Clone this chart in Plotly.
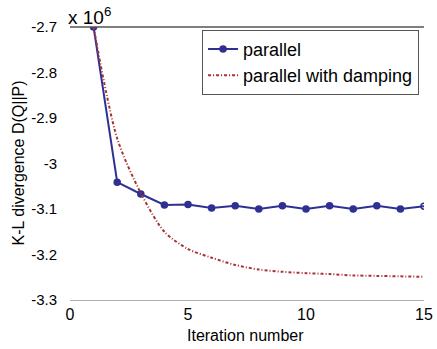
import plotly.graph_objects as go

iterations = list(range(1, 16))
parallel = [-2.700, -3.041, -3.067, -3.091, -3.090, -3.098, -3.093, -3.100,
            -3.093, -3.100, -3.093, -3.100, -3.093, -3.100, -3.094]
damping = [-2.700, -2.945, -3.065, -3.150, -3.188, -3.207, -3.223, -3.233,
           -3.238, -3.241, -3.243, -3.246, -3.247, -3.248, -3.249]
x_ticks = [0, 5, 10, 15]
y_ticks = [-2.7, -2.8, -2.9, -3.0, -3.1, -3.2, -3.3]
y_tick_labels = ["-2.7", "-2.8", "-2.9", "-3", "-3.1", "-3.2", "-3.3"]

font_family = "Liberation Sans, Arial, sans-serif"
blue = "#2e3192"
red = "#a83232"

marker_symbols = ["circle"] * (len(iterations) - 1) + ["circle-open"]

fig = go.Figure()
fig.add_trace(go.Scatter(
    x=iterations, y=parallel, name="parallel", mode="lines+markers",
    line=dict(color=blue, width=2),
    marker=dict(color=blue, size=6, symbol=marker_symbols, line=dict(color=blue, width=1.5)),
))
fig.add_trace(go.Scatter(
    x=iterations, y=damping, name="parallel with damping", mode="lines",
    line=dict(color=red, width=2, dash="3px,2px,1px,2px", shape="spline", smoothing=0.8),
))

# top frame line
fig.add_shape(type="line", xref="paper", yref="paper", x0=0, x1=1, y0=1, y1=1,
              line=dict(color="#555555", width=1.5))

# exponent label
fig.add_annotation(xref="paper", yref="paper", x=-0.01, y=1.0, xanchor="left", yanchor="bottom",
                   text="x 10<sup>6</sup>", showarrow=False, yshift=-3,
                   font=dict(family=font_family, size=19, color="black"))

# axis titles
fig.add_annotation(xref="paper", yref="paper", x=(245 - 70) / 354, y=(300 - 335) / 273,
                   xanchor="center", yanchor="middle", text="Iteration number", showarrow=False,
                   font=dict(family=font_family, size=16, color="black"))
fig.add_annotation(xref="paper", yref="paper", x=(18 - 70) / 354, y=0.5,
                   xanchor="center", yanchor="middle", text="K-L divergence D(Q||P)",
                   textangle=-90, showarrow=False,
                   font=dict(family=font_family, size=16, color="black"))

fig.update_layout(
    width=437, height=349,
    margin=dict(l=70, r=13, t=27, b=49, autoexpand=False),
    paper_bgcolor="white", plot_bgcolor="white",
    font=dict(family=font_family, size=15, color="black"),
    showlegend=True,
    legend=dict(x=0.373, y=0.99, xanchor="left", yanchor="top",
                bgcolor="white", bordercolor="#555555", borderwidth=1,
                font=dict(size=18), tracegroupgap=0, itemwidth=30),
    xaxis=dict(range=[0, 15], tickvals=x_ticks, showgrid=False, zeroline=False,
               showline=True, linecolor="#b0b0b0", linewidth=1,
               ticks="", automargin=False, tickfont=dict(size=16)),
    yaxis=dict(range=[-3.3, -2.7], tickvals=y_ticks, ticktext=y_tick_labels,
               showgrid=False, zeroline=False, showline=False,
               ticks="", automargin=False, ticklabelstandoff=12,
               tickfont=dict(size=15)),
)

# remove the default 8px page margin so the figure fills the 437x349 window exactly
fig.write_html("out.html",
               config={"displayModeBar": False},
               post_script="document.body.style.margin='0';document.body.style.overflow='hidden';")
